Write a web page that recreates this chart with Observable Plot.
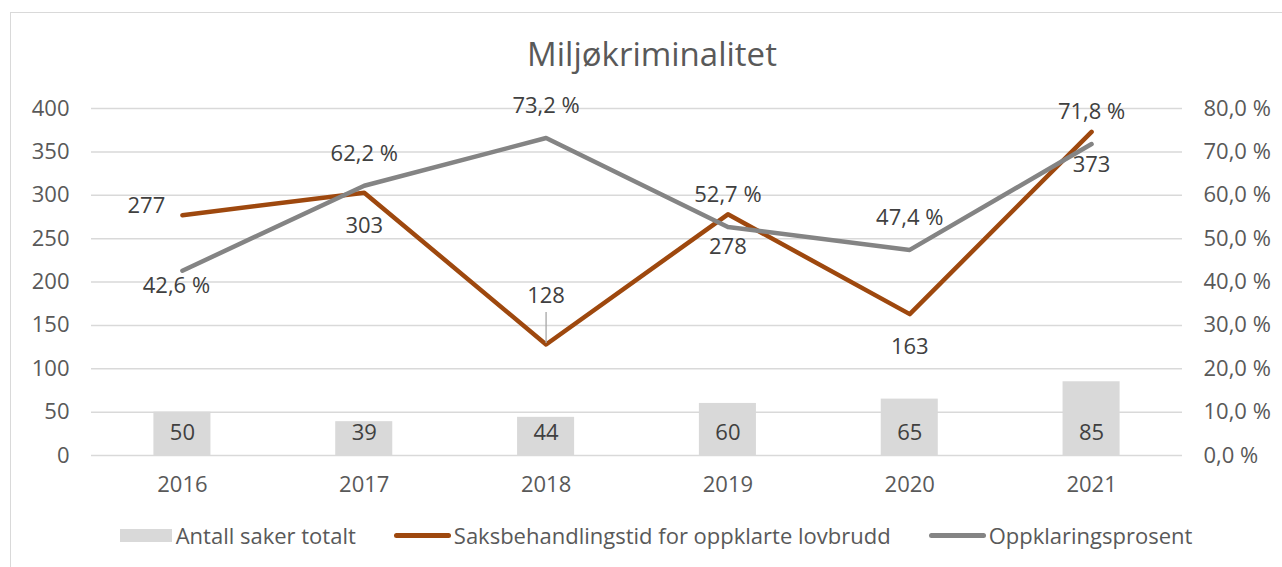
<!DOCTYPE html>
<html>
<head>
<meta charset="utf-8">
<script src="https://cdn.jsdelivr.net/npm/d3@7"></script>
<script src="https://cdn.jsdelivr.net/npm/@observablehq/plot@0.6"></script>
<style>
  html, body { margin: 0; padding: 0; background: #fff; }
  body { width: 1282px; height: 567px; position: relative; overflow: hidden; font-family: "Open Sans", sans-serif; color: #595959; }
  #frame { position: absolute; left: 10px; top: 12px; width: 1300px; height: 600px; border: 1px solid #d9d9d9; box-sizing: border-box; }
  #title { position: absolute; left: 0; top: 34px; width: 1304px; height: 40px; line-height: 40px; text-align: center; font-size: 33px; color: #595959; }
  #chart { position: absolute; left: 0; top: 85px; width: 1282px; height: 425px; }
  #legend { position: absolute; left: 0; top: 520px; width: 1312px; height: 30px; line-height: 30px; display: flex; justify-content: center; gap: 38px; font-size: 22px; color: #595959; white-space: nowrap; }
  .item { display: flex; align-items: center; }
  .sw-bar { display: inline-block; width: 52px; height: 13px; background: #d9d9d9; margin-right: 4px; }
  .sw-line { display: inline-block; width: 57px; height: 5px; border-radius: 3px; margin-right: 3px; }
</style>
</head>
<body>
<div id="frame"></div>
<div id="title">Miljøkriminalitet</div>
<div id="chart"></div>
<div id="legend"></div>
<script>
// ---- Data ----
const years = ["2016", "2017", "2018", "2019", "2020", "2021"];
const antallSaker = [50, 39, 44, 60, 65, 85];                       // Antall saker totalt (bars, left axis)
const saksbehandlingstid = [277, 303, 128, 278, 163, 373];          // Saksbehandlingstid for oppklarte lovbrudd (left axis)
const oppklaringsprosent = [42.6, 62.2, 73.2, 52.7, 47.4, 71.8];    // Oppklaringsprosent (right axis, %)
const leftTicks = [0, 50, 100, 150, 200, 250, 300, 350, 400];
const rightTicks = [0, 10, 20, 30, 40, 50, 60, 70, 80];
const seriesNames = ["Antall saker totalt", "Saksbehandlingstid for oppklarte lovbrudd", "Oppklaringsprosent"];

// label placement (Excel-style positions)
const tidPlacement = ["left", "below", "leader", "below", "below", "below"];
const pctPlacement = ["under", "above", "above", "above", "above", "above"];

// ---- Styles ----
const colors = { bar: "#d9d9d9", tid: "#9e480e", pct: "#848484", grid: "#d9d9d9", text: "#595959", label: "#404040" };
const offsets = {
  above: { dx: 0, dy: -32 },
  below: { dx: 0, dy: 33 },
  left: { dx: -36, dy: -9 },
  under: { dx: -6, dy: 15 },
  leader: { dx: 0, dy: -49 }
};

const yMax = leftTicks[leftTicks.length - 1];
const pMax = rightTicks[rightTicks.length - 1];
const factor = yMax / pMax; // maps percent onto the left scale
const fmtPct = v => v.toFixed(1).replace(".", ",") + " %";

const rows = years.map((year, i) => ({
  year,
  antall: antallSaker[i],
  tid: saksbehandlingstid[i],
  pct: oppklaringsprosent[i],
  pctY: oppklaringsprosent[i] * factor,
  tidPos: tidPlacement[i],
  pctPos: pctPlacement[i]
}));

const fontSize = 22;
const labelMarks = [];
for (const [pos, off] of Object.entries(offsets)) {
  const tRows = rows.filter(d => d.tidPos === pos);
  if (tRows.length) labelMarks.push(Plot.text(tRows, { x: "year", y: "tid", text: d => String(d.tid), dx: off.dx, dy: off.dy, fontSize, fill: colors.label, textAnchor: "middle", lineAnchor: "middle" }));
  const pRows = rows.filter(d => d.pctPos === pos);
  if (pRows.length) labelMarks.push(Plot.text(pRows, { x: "year", y: "pctY", text: d => fmtPct(d.pct), dx: off.dx, dy: off.dy, fontSize, fill: colors.label, textAnchor: "middle", lineAnchor: "middle" }));
}

const chart = Plot.plot({
  width: 1282,
  height: 425,
  marginLeft: 91,
  marginRight: 100,
  marginTop: 23,
  marginBottom: 55,
  style: { fontFamily: "'Open Sans', sans-serif", background: "transparent", color: colors.text, overflow: "visible" },
  x: { type: "band", domain: years, padding: 0, round: false },
  y: { domain: [0, yMax] },
  marks: [
    Plot.gridY(leftTicks, { stroke: colors.grid, strokeOpacity: 1, strokeWidth: 1.5 }),
    Plot.axisY(leftTicks, { anchor: "left", tickSize: 0, tickPadding: 22, fontSize, label: null, fill: colors.text }),
    Plot.axisY(leftTicks, { anchor: "right", tickSize: 0, tickPadding: 21, fontSize, label: null, fill: colors.text, tickFormat: v => fmtPct(v / factor) }),
    Plot.axisX({ tickSize: 0, tickPadding: 21, fontSize, label: null, fill: colors.text }),
    Plot.barY(rows, { x: "year", y: "antall", fill: colors.bar, insetLeft: 62.4, insetRight: 62.4 }),
    Plot.text(rows, { x: "year", y: 0, text: d => String(d.antall), dy: -23, fontSize, fill: colors.label, textAnchor: "middle", lineAnchor: "middle" }),
    Plot.line(rows, { x: "year", y: "tid", stroke: colors.tid, strokeWidth: 4.5, strokeLinecap: "round", strokeLinejoin: "round", curve: "linear" }),
    Plot.line(rows, { x: "year", y: "pctY", stroke: colors.pct, strokeWidth: 4.5, strokeLinecap: "round", strokeLinejoin: "round", curve: "linear" }),
    Plot.ruleX(rows.filter(d => d.tidPos === "leader"), { x: "year", y1: "tid", y2: "tid", insetTop: -32, insetBottom: 1, stroke: "#a6a6a6", strokeWidth: 1.3 }),
    ...labelMarks
  ]
});
document.getElementById("chart").appendChild(chart);

// ---- Legend ----
const legend = document.getElementById("legend");
const swatches = [
  '<span class="sw-bar"></span>',
  `<span class="sw-line" style="background:${colors.tid}"></span>`,
  `<span class="sw-line" style="background:${colors.pct}"></span>`
];
seriesNames.forEach((name, i) => {
  const item = document.createElement("span");
  item.className = "item";
  item.innerHTML = swatches[i];
  item.appendChild(document.createTextNode(name));
  legend.appendChild(item);
});
</script>
</body>
</html>
